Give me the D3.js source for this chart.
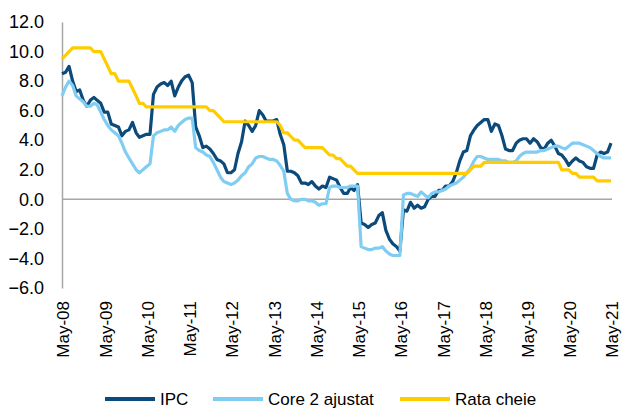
<!DOCTYPE html>
<html>
<head>
<meta charset="utf-8">
<script src="https://cdn.jsdelivr.net/npm/d3@7"></script>
<style>
    body { margin: 0; background: #fff; }
    svg text { font-family: "Liberation Sans", Arial, sans-serif; fill: #000; }
</style>
</head>
<body>
<svg id="chart" width="622" height="408"></svg>
<script>

// monthly values, May 2008 .. May 2021
let ipc = [
    8.5, 8.6, 9.0, 8.0, 7.3, 7.4, 6.7, 6.3,
    6.7, 6.9, 6.7, 6.5, 5.9, 5.9, 5.1, 5.0, 4.9, 4.3, 4.6, 4.7,
    5.2, 4.5, 4.2, 4.3, 4.4, 4.4, 7.1, 7.6, 7.8, 7.9, 7.7, 8.0,
    7.0, 7.6, 8.0, 8.3, 8.4, 7.9, 4.9, 4.3, 3.5, 3.6, 3.4, 3.1,
    2.7, 2.6, 2.4, 1.8, 1.8, 2.0, 3.1, 3.9, 5.3, 5.0, 4.6, 5.0,
    6.0, 5.7, 5.3, 5.3, 5.3, 5.4, 4.4, 3.7, 1.9, 1.9, 1.8, 1.6,
    1.1, 1.1, 1.0, 1.2, 0.9, 0.7, 0.9, 0.8, 1.5, 1.4, 1.3, 0.8,
    0.4, 0.4, 0.8, 0.6, 1.0, -1.6, -1.7, -1.9, -1.7, -1.6, -1.1, -0.9,
    -2.1, -2.7, -3.0, -3.2, -3.5, -0.7, -0.8, -0.2, -0.6, -0.4, -0.6, -0.5,
    0.0, 0.2, 0.2, 0.6, 0.6, 0.9, 0.9, 1.2, 1.8, 2.6, 3.2, 3.3,
    4.3, 4.7, 5.0, 5.2, 5.4, 5.4, 4.6, 5.1, 5.0, 4.3, 3.4, 3.3,
    3.3, 3.8, 4.0, 4.1, 4.1, 3.8, 4.1, 3.9, 3.5, 3.4, 3.8, 4.0,
    3.6, 3.1, 3.0, 2.7, 2.3, 2.6, 2.8, 2.6, 2.5, 2.2, 2.1, 2.1,
    3.0, 3.2, 3.1, 3.2, 3.8
];

let core2 = [
    7.0, 7.6, 8.0, 7.7, 7.0, 6.8, 6.6, 6.3,
    6.3, 6.5, 6.4, 5.9, 5.4, 5.0, 4.7, 4.5, 4.3, 3.8, 3.2, 2.8,
    2.4, 2.0, 1.8, 2.0, 2.2, 2.4, 4.3, 4.5, 4.6, 4.7, 4.7, 4.9,
    4.6, 5.0, 5.2, 5.4, 5.5, 5.5, 3.5, 3.3, 3.2, 3.0, 2.9, 2.5,
    2.0, 1.5, 1.2, 1.1, 1.0, 1.1, 1.3, 1.6, 1.8, 2.2, 2.4, 2.8,
    2.9, 2.9, 2.8, 2.7, 2.7, 2.6, 2.3, 1.9, 0.4, 0.0, -0.1, -0.1,
    0.0, 0.0, -0.1, -0.1, -0.2, -0.4, -0.3, -0.3, 0.8, 0.9, 0.9, 0.8,
    0.8, 0.8, 0.9, 0.9, 0.9, -3.2, -3.3, -3.4, -3.4, -3.3, -3.3, -3.2,
    -3.5, -3.7, -3.8, -3.8, -3.8, 0.3, 0.4, 0.4, 0.3, 0.2, 0.5, 0.3,
    0.1, 0.4, 0.5, 0.5, 0.6, 0.7, 0.9, 1.0, 1.1, 1.3, 1.5, 1.8,
    2.1, 2.6, 2.9, 2.9, 2.8, 2.7, 2.7, 2.7, 2.7, 2.6, 2.6, 2.5,
    2.5, 2.6, 2.9, 3.1, 3.2, 3.2, 3.2, 3.2, 3.3, 3.3, 3.4, 3.5,
    3.6, 3.6, 3.5, 3.4, 3.6, 3.8, 3.8, 3.8, 3.7, 3.6, 3.5, 3.3,
    3.1, 2.9, 2.8, 2.8, 2.8
];

let rataCheie = [
    9.5, 9.75, 10.0, 10.25, 10.25, 10.25, 10.25, 10.25,
    10.25, 10.0, 10.0, 10.0, 9.5, 9.0, 8.5, 8.5, 8.0, 8.0, 8.0, 8.0,
    7.5, 7.0, 6.5, 6.5, 6.25, 6.25, 6.25, 6.25, 6.25, 6.25, 6.25, 6.25,
    6.25, 6.25, 6.25, 6.25, 6.25, 6.25, 6.25, 6.25, 6.25, 6.25, 6.0, 6.0,
    5.75, 5.5, 5.25, 5.25, 5.25, 5.25, 5.25, 5.25, 5.25, 5.25, 5.25, 5.25,
    5.25, 5.25, 5.25, 5.25, 5.25, 5.25, 5.0, 4.5, 4.5, 4.25, 4.0, 4.0,
    3.75, 3.5, 3.5, 3.5, 3.5, 3.5, 3.5, 3.25, 3.0, 3.0, 2.75, 2.75,
    2.5, 2.25, 2.25, 2.0, 1.75, 1.75, 1.75, 1.75, 1.75, 1.75, 1.75, 1.75,
    1.75, 1.75, 1.75, 1.75, 1.75, 1.75, 1.75, 1.75, 1.75, 1.75, 1.75, 1.75,
    1.75, 1.75, 1.75, 1.75, 1.75, 1.75, 1.75, 1.75, 1.75, 1.75, 1.75, 1.75,
    2.0, 2.25, 2.25, 2.25, 2.5, 2.5, 2.5, 2.5, 2.5, 2.5, 2.5, 2.5,
    2.5, 2.5, 2.5, 2.5, 2.5, 2.5, 2.5, 2.5, 2.5, 2.5, 2.5, 2.5,
    2.5, 2.5, 2.0, 2.0, 2.0, 1.75, 1.75, 1.5, 1.5, 1.5, 1.5, 1.5,
    1.25, 1.25, 1.25, 1.25, 1.25
];

let yTicks = [12, 10, 8, 6, 4, 2, 0, -2, -4, -6];
let xTickYears = [2008, 2009, 2010, 2011, 2012, 2013, 2014, 2015, 2016, 2017, 2018, 2019, 2020, 2021];

let seriesNames = ["IPC", "Core 2 ajustat", "Rata cheie"];
let colors = ["#0b4a7a", "#80cdf3", "#ffcc00"];

let startDate = new Date(2008, 4, 1);
let dates = ipc.map((d, i) => d3.timeMonth.offset(startDate, i));

let svg = d3.select("#chart");
let margin = {top: 22, left: 62, right: 11, bottom: 120};
let width = 622 - margin.left - margin.right;
let height = 408 - margin.top - margin.bottom;

let xScale = d3.scaleTime()
    .domain([dates[0], dates[dates.length - 1]])
    .range([margin.left, margin.left + width]);

let yScale = d3.scaleLinear()
    .domain([-6, 12])
    .range([margin.top + height, margin.top]);

// y axis: labels only, plus the gray vertical line
let yAxis = svg.append("g")
    .attr("transform", "translate(" + margin.left + ",0)")
    .call(d3.axisLeft(yScale).tickValues(yTicks).tickSize(0).tickPadding(18)
        .tickFormat(d3.format(".1f")));
yAxis.select(".domain").attr("stroke", "#a6a6a6").attr("stroke-width", 1.5);
yAxis.selectAll("text").style("font-size", "18px");

// zero line
svg.append("line")
    .attr("x1", margin.left).attr("x2", margin.left + width + 1)
    .attr("y1", yScale(0)).attr("y2", yScale(0))
    .attr("stroke", "#a6a6a6").attr("stroke-width", 1.5);

// x axis labels at the bottom, rotated
let xAxis = svg.append("g")
    .attr("transform", "translate(0," + (margin.top + height) + ")")
    .call(d3.axisBottom(xScale)
        .tickValues(xTickYears.map(y => new Date(y, 4, 1)))
        .tickSize(0)
        .tickFormat(d3.timeFormat("%b-%y")));
xAxis.select(".domain").remove();
xAxis.selectAll("text")
    .style("font-size", "17px")
    .attr("y", 1)
    .attr("x", -13)
    .attr("dy", ".35em")
    .attr("transform", "rotate(-90)")
    .style("text-anchor", "end");

let line = d3.line()
    .x((d, i) => xScale(dates[i]))
    .y(d => yScale(d));

let allSeries = [ipc, core2, rataCheie];
svg.append("g").selectAll("path")
    .data(allSeries)
    .join("path")
    .attr("d", d => line(d))
    .attr("fill", "none")
    .attr("stroke", (d, i) => colors[i])
    .attr("stroke-width", 3.2)
    .attr("stroke-linejoin", "round");

// legend
let legendX = [105, 213, 400];
let legend = svg.append("g").selectAll("g")
    .data(seriesNames)
    .join("g")
    .attr("transform", (d, i) => "translate(" + legendX[i] + ",399)");
legend.append("line")
    .attr("x1", 0).attr("x2", 50)
    .attr("stroke", (d, i) => colors[i])
    .attr("stroke-width", 4);
legend.append("text")
    .attr("x", 55)
    .attr("dy", ".35em")
    .style("font-size", "17px")
    .text(d => d);

</script>
</body>
</html>
